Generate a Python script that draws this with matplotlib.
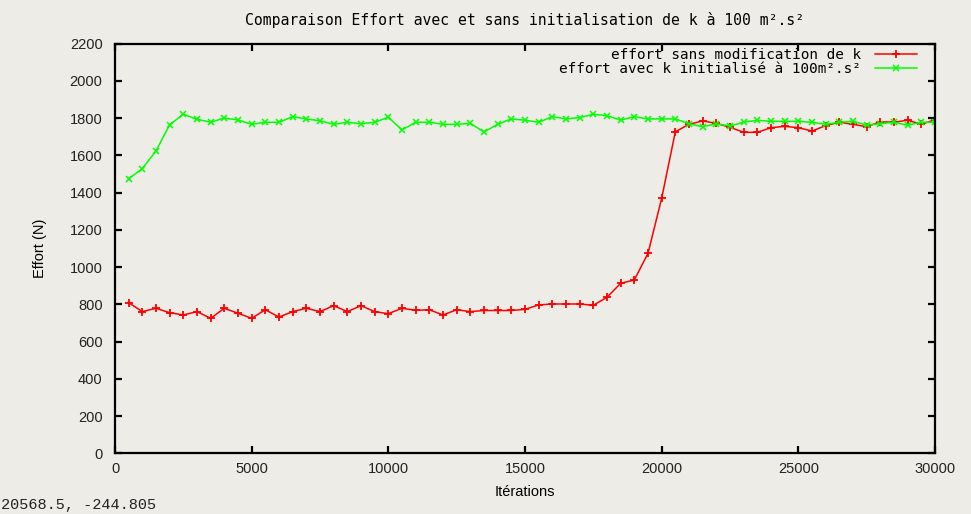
import matplotlib
matplotlib.use("Agg")
import matplotlib.pyplot as plt
import numpy as np

# Sampled every 500 iterations
iterations = np.arange(500, 30001, 500)

effort_sans = [
    809, 761, 779, 755, 743, 761, 725, 779, 752, 725,
    771, 732, 761, 779, 761, 793, 761, 793, 761, 750,
    779, 768, 771, 743, 771, 761, 767, 767, 767, 773,
    797, 802, 802, 802, 795, 838, 913, 931, 1074, 1370,
    1727, 1767, 1785, 1772, 1751, 1724, 1724, 1749, 1756, 1749,
    1731, 1760, 1778, 1767, 1754, 1781, 1778, 1789, 1767, 1792,
]

effort_avec = [
    1475, 1529, 1624, 1765, 1821, 1794, 1778, 1801, 1790, 1767,
    1778, 1778, 1808, 1796, 1786, 1767, 1778, 1770, 1778, 1805,
    1737, 1778, 1778, 1767, 1767, 1772, 1726, 1767, 1796, 1789,
    1778, 1808, 1796, 1803, 1821, 1813, 1790, 1808, 1796, 1796,
    1796, 1770, 1754, 1770, 1758, 1778, 1789, 1783, 1783, 1783,
    1778, 1767, 1778, 1783, 1763, 1770, 1778, 1762, 1778, 1778,
]

label_sans = "effort sans modification de k"
label_avec = "effort avec k initialisé à 100m².s²"
title = "Comparaison Effort avec et sans initialisation de k à 100 m².s²"
status = "20568.5, -244.805"

bg = "#edece6"
mono = ["DejaVu Sans Mono"]
narrow = ["Liberation Sans", "DejaVu Sans"]

fig = plt.figure(figsize=(9.71, 5.14), dpi=100, facecolor=bg)
ax = fig.add_axes([115 / 971, 1 - 453.3 / 514, 820 / 971, 409.6 / 514], facecolor=bg)

ax.plot(iterations, effort_sans, color="#ff0000", lw=1.1, marker="+", ms=6, mew=1.3,
        label=label_sans)
ax.plot(iterations, effort_avec, color="#00ff00", lw=1.1, marker="x", ms=5, mew=1.1,
        label=label_avec)

ax.set_xlim(0, 30000)
ax.set_ylim(0, 2200)
ax.set_xticks(np.arange(0, 30001, 5000))
ax.set_yticks(np.arange(0, 2201, 200))

for s in ax.spines.values():
    s.set_linewidth(1.6)
    s.set_color("black")
ax.tick_params(direction="in", length=5, width=1.6, top=True, right=True,
               labelsize=10.5, colors="black")
ax.tick_params(axis="x", pad=6)
ax.tick_params(axis="y", pad=9)
for lbl in ax.get_xticklabels() + ax.get_yticklabels():
    lbl.set_family(narrow)
    lbl.set_color("#222222")

ax.set_xlabel("Itérations", family=narrow, fontsize=10.5, labelpad=7)
ax.set_ylabel("Effort (N)", family=narrow, fontsize=10.5, labelpad=16)
fig.text(525 / 971, 1 - 20 / 514, title, family=mono, fontsize=10.6,
         ha="center", va="center")
# mouse position readout in the bottom-left corner
fig.text(1 / 971, 1 - 505 / 514, status, family=["Liberation Mono", "DejaVu Sans Mono"],
         fontsize=11, ha="left", va="center", color="#222222")

leg = ax.legend(loc="upper right", bbox_to_anchor=(0.978, 0.99), frameon=False,
                markerfirst=False, handlelength=2.9, handletextpad=1.0,
                labelspacing=0.0, borderpad=0, borderaxespad=0,
                prop={"family": mono, "size": 10.4})

fig.savefig("out.png", dpi=100, facecolor=bg)
